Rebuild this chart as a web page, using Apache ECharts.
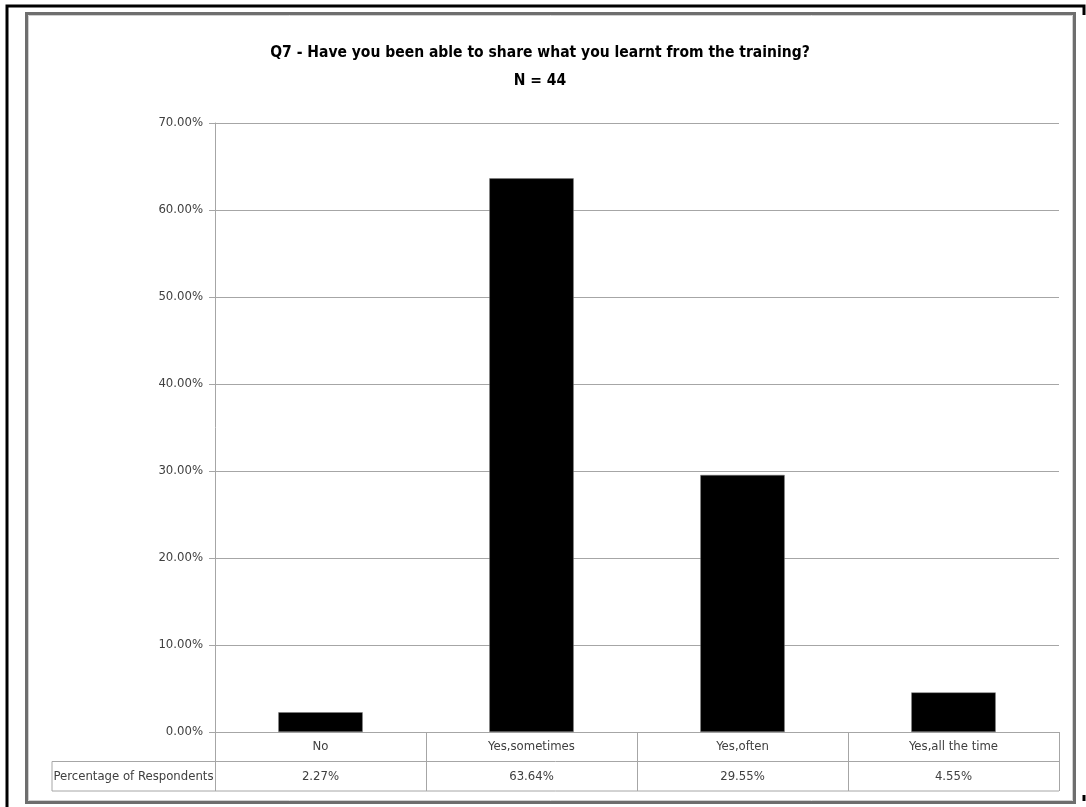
<!DOCTYPE html>
<html><head><meta charset="utf-8">
<script src="https://cdn.jsdelivr.net/npm/echarts@6/dist/echarts.min.js"></script>
<style>html,body{margin:0;padding:0;background:#fff}#c{width:1086px;height:807px}</style>
</head><body><div id="c"></div>
<script>
var categories = ['No', 'Yes,sometimes', 'Yes,often', 'Yes,all the time'];
var values = [0.0227, 0.6364, 0.2955, 0.0455];
var valueLabels = ['2.27%', '63.64%', '29.55%', '4.55%'];
var seriesName = 'Percentage of Respondents';
var titleLines = ['Q7 - Have you been able to share what you learnt from the training?', 'N = 44'];

var FONT = '"Liberation Sans Narrow", "DejaVu Sans Condensed", "Open Sans", sans-serif';
var chart = echarts.init(document.getElementById('c'), null, {renderer: 'canvas'});
var option = {
  animation: false,
  backgroundColor: '#fff',
  title: {
    text: titleLines.join('\n'),
    left: 535, top: 34, textAlign: 'center',
    textStyle: {fontFamily: FONT, fontSize: 15.5, fontWeight: 'bold', color: '#000', lineHeight: 28}
  },
  grid: {left: 215, right: 27, top: 123, bottom: 75, containLabel: false},
  xAxis: {
    type: 'category', data: categories,
    axisLine: {show: true, lineStyle: {color: '#a6a6a6', width: 1}},
    axisTick: {show: true, length: 59, inside: false, alignWithLabel: false, lineStyle: {color: '#a6a6a6'}},
    axisLabel: {
      margin: 0, interval: 0,
      formatter: function (v, i) { return '{a|' + v + '}\n{b|' + valueLabels[i] + '}'; },
      rich: {
        a: {fontFamily: FONT, fontSize: 13, color: '#404040', height: 29.5, lineHeight: 29.5, align: 'center'},
        b: {fontFamily: FONT, fontSize: 13, color: '#404040', height: 29.5, lineHeight: 29.5, align: 'center'}
      }
    }
  },
  yAxis: {
    type: 'value', min: 0, max: 0.7, interval: 0.1,
    axisLine: {show: true, lineStyle: {color: '#a6a6a6'}},
    axisTick: {show: true, length: 6, lineStyle: {color: '#a6a6a6'}},
    splitLine: {show: true, lineStyle: {color: '#a6a6a6', width: 1}},
    axisLabel: {
      margin: 12, fontFamily: FONT, fontSize: 13, color: '#404040',
      formatter: function (v) { return (v * 100).toFixed(2) + '%'; }
    }
  },
  series: [{
    name: seriesName, type: 'bar', data: values, barWidth: '40%',
    itemStyle: {color: '#000', borderColor: '#7f7f7f', borderWidth: 0.5}
  }]
};
chart.setOption(option);

var gridLeft = 215, gridRight = 1086 - 27, yZero = chart.convertToPixel({yAxisIndex: 0}, 0);
var row1 = yZero + 29.5, row2 = yZero + 59, tableLeft = 52;
var lc = '#a6a6a6';
chart.setOption({
  graphic: [
    {type: 'line', shape: {x1: tableLeft, y1: row1, x2: gridRight, y2: row1}, style: {stroke: lc, lineWidth: 1}},
    {type: 'line', shape: {x1: tableLeft, y1: row2, x2: gridRight, y2: row2}, style: {stroke: lc, lineWidth: 1}},
    {type: 'line', shape: {x1: tableLeft, y1: row1, x2: tableLeft, y2: row2}, style: {stroke: lc, lineWidth: 1}},
    {type: 'text', x: (tableLeft + gridLeft) / 2, y: (row1 + row2) / 2,
      style: {text: seriesName, fill: '#404040', font: '13px ' + FONT, textAlign: 'center', textVerticalAlign: 'middle'}},
    {type: 'rect', shape: {x: 26.5, y: 13.5, width: 1048, height: 789}, style: {fill: 'none', stroke: '#6e6e6e', lineWidth: 3}},
    {type: 'rect', shape: {x: 28.5, y: 15.5, width: 1044, height: 785}, style: {fill: 'none', stroke: '#d0d0d0', lineWidth: 1}},
    {type: 'polyline', shape: {points: [[7, 807], [7, 6], [1084, 6], [1084, 15]]}, style: {fill: 'none', stroke: '#000', lineWidth: 3}},
    {type: 'line', shape: {x1: 1084, y1: 795, x2: 1084, y2: 801}, style: {stroke: '#000', lineWidth: 3}}
  ]
});
</script></body></html>
